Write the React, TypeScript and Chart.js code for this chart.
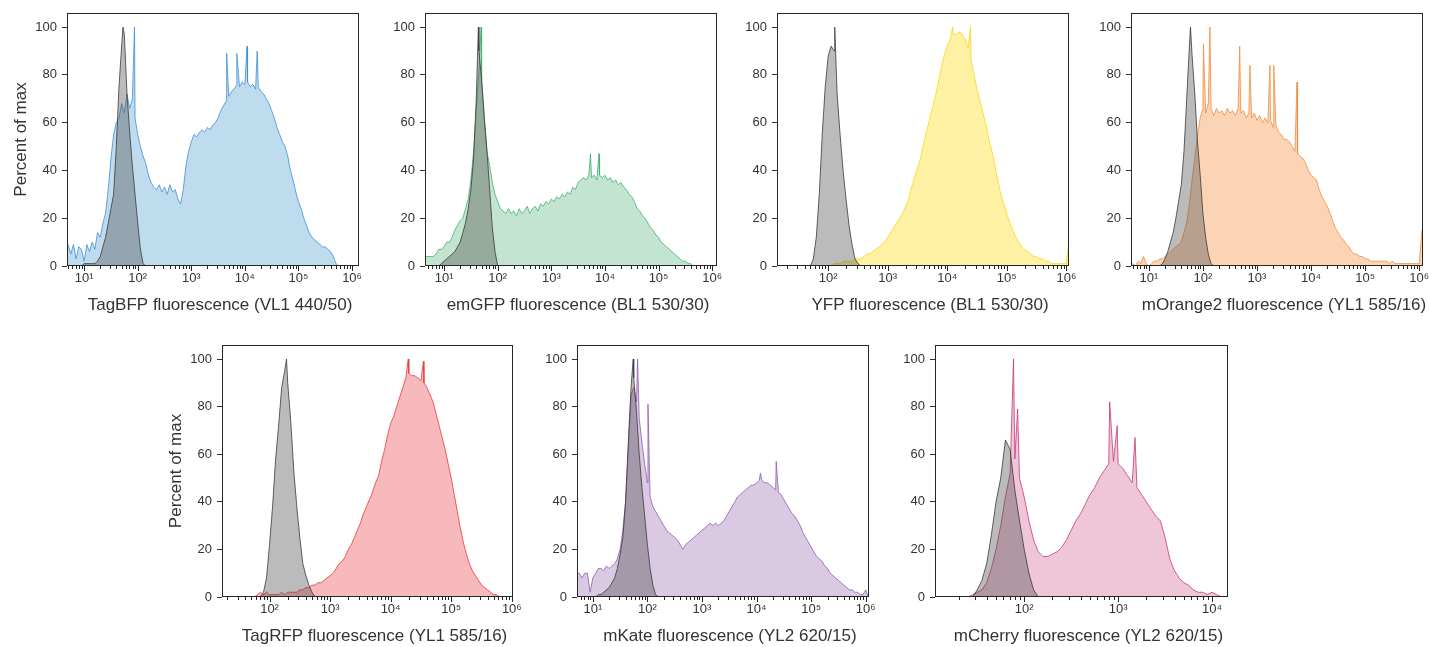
import React, { useEffect, useRef } from "react";
import { Chart, registerables } from "chart.js";

Chart.register(...registerables);

// ---------- data (bin spacing: 0.05 decade, values = percent of max) ----------
const BIN_STEP = 0.05;
const decadeLabels = ["10⁰", "10¹", "10²", "10³", "10⁴", "10⁵", "10⁶"];
const yTickValues = [0, 20, 40, 60, 80, 100];
const minorMultipliers = [1, 2, 3, 4, 5, 6, 7, 8, 9];

// TagBFP (VL1 440/50)
const tagbfpStart = 0.65;
const tagbfpValues = [
  8, 9, 5, 9, 3, 8, 7, 2, 9, 6,
  10, 7, 14, 12, 18, 22, 32, 45, 55, 60,
  62, 68, 64, 72, 66, 70, 62, 55, 50, 46,
  43, 38, 35, 33, 32, 34, 31, 33, 30, 34,
  31, 32, 28, 26, 32, 42, 48, 52, 55, 54,
  56, 57, 56, 58, 57, 59, 60, 62, 65, 67,
  69, 71, 73, 74, 76, 75, 77, 76, 77, 75,
  76, 74, 75, 73, 72, 70, 68, 65, 62, 58,
  55, 52, 50, 46, 40, 36, 31, 27, 24, 20,
  17, 14, 12, 11, 10, 9, 8, 8, 7, 6,
  4, 1, 0,
];
const tagbfpPeakExp = [1.94, 3.66, 3.85, 4.04, 4.23];
const tagbfpPeakVal = [100, 89, 89, 92, 90];
const tagbfpCtrlStart = 0.95;
const tagbfpCtrlValues = [0, 1, 1, 1, 1, 1, 2, 4, 8, 12, 18, 24, 30, 50, 75, 92, 97, 72, 56, 42, 30, 18, 7, 1, 0];
const tagbfpCtrlPeakExp = [1.725];
const tagbfpCtrlPeakVal = [100];

// emGFP (BL1 530/30)
const emgfpStart = 0.6;
const emgfpValues = [
  4, 4, 4, 4, 4, 5, 7, 7, 8, 10,
  10, 12, 15, 17, 19, 20, 24, 28, 36, 48,
  65, 82, 78, 62, 48, 42, 35, 30, 27, 24,
  23, 22, 24, 22, 23, 21, 24, 22, 23, 25,
  22, 24, 25, 23, 26, 25, 27, 26, 28, 27,
  29, 28, 30, 29, 31, 30, 33, 32, 35, 36,
  37, 36, 38, 37, 38, 36, 38, 37, 38, 36,
  37, 35, 36, 34, 35, 33, 32, 30, 29, 27,
  24, 23, 21, 20, 18, 16, 15, 13, 12, 10,
  9, 8, 7, 6, 5, 4, 3, 2, 2, 1,
  1, 0,
];
const emgfpPeakExp = [1.69, 3.73, 3.89];
const emgfpPeakVal = [100, 47, 47];
const emgfpCtrlStart = 0.9;
const emgfpCtrlValues = [0, 1, 2, 3, 4, 5, 6, 8, 10, 14, 18, 24, 32, 45, 70, 90, 78, 62, 48, 32, 16, 6, 0];
const emgfpCtrlPeakExp = [1.64];
const emgfpCtrlPeakVal = [100];

// YFP (BL1 530/30)
const yfpStart = 2.05;
const yfpValues = [
  0, 1, 1, 1, 2, 2, 2, 2, 3, 3,
  3, 4, 5, 5, 6, 7, 8, 9, 10, 12,
  14, 16, 18, 20, 22, 25, 28, 33, 37, 41,
  45, 51, 56, 61, 66, 71, 77, 83, 88, 92,
  95, 97, 97, 98, 97, 95, 91, 86, 80, 74,
  69, 64, 59, 53, 48, 42, 36, 30, 26, 22,
  18, 15, 12, 10, 8, 7, 6, 5, 4, 4,
  3, 3, 2, 2, 1, 1, 1, 1, 1, 1,
  12,
];
const yfpPeakExp = [4.09, 4.39];
const yfpPeakVal = [100, 100];
const yfpCtrlStart = 1.7;
const yfpCtrlValues = [0, 3, 12, 30, 55, 75, 88, 92, 90, 72, 55, 40, 28, 17, 9, 3, 1, 0];
const yfpCtrlPeakExp = [2.11];
const yfpCtrlPeakVal = [100];

// mOrange2 (YL1 585/16)
const morangeStart = 0.65;
const morangeValues = [
  0, 1, 0, 2, 1, 4, 1, 0, 1, 2,
  2, 3, 3, 4, 5, 6, 7, 8, 9, 10,
  14, 18, 26, 36, 45, 55, 62, 66, 64, 68,
  66, 63, 66, 64, 65, 63, 66, 64, 65, 63,
  66, 64, 65, 62, 64, 62, 64, 61, 63, 60,
  62, 60, 61, 58, 59, 56, 55, 53, 53, 52,
  50, 48, 47, 46, 45, 43, 40, 38, 37, 36,
  32, 29, 27, 25, 22, 19, 16, 14, 12, 11,
  9, 8, 6, 5, 5, 4, 4, 3, 3, 2,
  2, 2, 2, 2, 2, 2, 1, 2, 1, 1,
  1, 1, 1, 1, 1, 1, 1, 1, 15,
];
const morangePeakExp = [2.01, 2.13, 2.68, 2.87, 3.24, 3.31, 3.74];
const morangePeakVal = [93, 100, 92, 84, 84, 84, 77];
const morangeCtrlStart = 1.2;
const morangeCtrlValues = [0, 1, 3, 6, 10, 14, 20, 27, 34, 48, 70, 92, 88, 72, 52, 38, 22, 12, 5, 1, 0];
const morangeCtrlPeakExp = [1.77];
const morangeCtrlPeakVal = [100];

// TagRFP (YL1 585/16)
const tagrfpStart = 1.75;
const tagrfpValues = [
  0, 1, 2, 1, 2, 1, 1, 1, 1, 2,
  1, 2, 2, 2, 2, 3, 3, 4, 4, 5,
  5, 6, 6, 7, 8, 9, 10, 12, 14, 15,
  17, 20, 22, 25, 28, 31, 35, 38, 41, 44,
  48, 51, 57, 62, 68, 73, 76, 80, 84, 88,
  92, 94, 93, 93, 92, 91, 90, 88, 85, 82,
  77, 72, 67, 62, 56, 50, 43, 36, 29, 23,
  18, 14, 11, 9, 7, 5, 4, 3, 2, 1,
  1, 0,
];
const tagrfpPeakExp = [4.29, 4.54];
const tagrfpPeakVal = [100, 99];
const tagrfpCtrlStart = 1.85;
const tagrfpCtrlValues = [0, 2, 8, 22, 38, 58, 72, 88, 95, 90, 74, 53, 38, 25, 14, 9, 5, 2, 0];
const tagrfpCtrlPeakExp = [2.28];
const tagrfpCtrlPeakVal = [100];

// mKate (YL2 620/15)
const mkateStart = 0.7;
const mkateValues = [
  10, 10, 8, 10, 10, 2, 8, 10, 12, 12,
  11, 13, 12, 13, 14, 16, 20, 28, 40, 62,
  85, 88, 82, 75, 65, 56, 48, 42, 38, 36,
  34, 32, 30, 28, 27, 26, 25, 24, 22, 20,
  22, 23, 24, 25, 26, 27, 28, 29, 30, 31,
  30, 31, 30, 31, 32, 34, 36, 38, 40, 42,
  43, 44, 45, 46, 47, 47, 48, 49, 49, 48,
  48, 47, 46, 45, 44, 43, 41, 39, 37, 35,
  34, 32, 30, 27, 25, 23, 21, 19, 17, 16,
  15, 13, 12, 10, 9, 8, 7, 6, 5, 4,
  3, 3, 2, 2, 1, 1, 3, 0,
];
const mkatePeakExp = [1.82, 2.01, 4.07, 4.36];
const mkatePeakVal = [100, 81, 52, 57];
const mkateCtrlStart = 1.05;
const mkateCtrlValues = [0, 1, 1, 2, 3, 4, 6, 8, 12, 18, 25, 40, 65, 88, 92, 78, 60, 46, 34, 22, 12, 5, 1, 0];
const mkateCtrlPeakExp = [1.74];
const mkateCtrlPeakVal = [100];

// mCherry (YL2 620/15)
const mcherryStart = 1.4;
const mcherryValues = [
  0, 1, 2, 3, 6, 12, 20, 30, 42, 52,
  58, 50, 42, 32, 24, 19, 17, 17, 18, 19,
  21, 24, 28, 32, 35, 39, 43, 46, 50, 53,
  56, 57, 56, 54, 51, 48, 46, 43, 40, 37,
  34, 32, 25, 16, 11, 8, 6, 5, 3, 2,
  2, 1, 2, 1, 0,
];
const mcherryPeakExp = [1.886, 1.93, 2.91, 2.99, 3.18];
const mcherryPeakVal = [100, 79, 82, 72, 67];
const mcherryCtrlStart = 1.45;
const mcherryCtrlValues = [0, 3, 7, 14, 26, 40, 50, 66, 62, 45, 32, 20, 10, 3, 0];
const mcherryCtrlPeakExp: number[] = [];
const mcherryCtrlPeakVal: number[] = [];

// ---------- layout / style ----------
const FONT = '"Liberation Sans", "Helvetica Neue", Arial, sans-serif';
const TEXT = "#333333";
const LW = 64; // y-axis box width
const RW = 78; // right spacer
const TP = 4; // top padding
const XH = 24; // x-axis box height
const TITLE_BOX = 28;
const Y_MAX = 105.9;

type Series = { start: number; values: number[]; peakExp: number[]; peakVal: number[] };

type Panel = {
  id: string;
  rect: [number, number, number, number];
  xRange: [number, number];
  xTitle: string;
  yTitle: boolean;
  main: Series;
  ctrl: Series;
  line: string;
  fill: string;
};

const panels: Panel[] = [
  { id: "tagbfp", rect: [67, 13, 359, 266], xRange: [0.68, 6.13], xTitle: "TagBFP fluorescence (VL1 440/50)", yTitle: true,
    main: { start: tagbfpStart, values: tagbfpValues, peakExp: tagbfpPeakExp, peakVal: tagbfpPeakVal },
    ctrl: { start: tagbfpCtrlStart, values: tagbfpCtrlValues, peakExp: tagbfpCtrlPeakExp, peakVal: tagbfpCtrlPeakVal },
    line: "#3f8fd2", fill: "#bfdcef" },
  { id: "emgfp", rect: [425, 13, 717, 266], xRange: [0.644, 6.09], xTitle: "emGFP fluorescence (BL1 530/30)", yTitle: false,
    main: { start: emgfpStart, values: emgfpValues, peakExp: emgfpPeakExp, peakVal: emgfpPeakVal },
    ctrl: { start: emgfpCtrlStart, values: emgfpCtrlValues, peakExp: emgfpCtrlPeakExp, peakVal: emgfpCtrlPeakVal },
    line: "#3fb26a", fill: "#c3e4d0" },
  { id: "yfp", rect: [777, 13, 1069, 266], xRange: [1.14, 6.045], xTitle: "YFP fluorescence (BL1 530/30)", yTitle: false,
    main: { start: yfpStart, values: yfpValues, peakExp: yfpPeakExp, peakVal: yfpPeakVal },
    ctrl: { start: yfpCtrlStart, values: yfpCtrlValues, peakExp: yfpCtrlPeakExp, peakVal: yfpCtrlPeakVal },
    line: "#f6d915", fill: "#fff1a3" },
  { id: "morange", rect: [1131, 13, 1423, 266], xRange: [0.67, 6.07], xTitle: "mOrange2 fluorescence (YL1 585/16)", yTitle: false,
    main: { start: morangeStart, values: morangeValues, peakExp: morangePeakExp, peakVal: morangePeakVal },
    ctrl: { start: morangeCtrlStart, values: morangeCtrlValues, peakExp: morangeCtrlPeakExp, peakVal: morangeCtrlPeakVal },
    line: "#f28c3c", fill: "#fbd4b6" },
  { id: "tagrfp", rect: [222, 345, 513, 597], xRange: [1.215, 6.02], xTitle: "TagRFP fluorescence (YL1 585/16)", yTitle: true,
    main: { start: tagrfpStart, values: tagrfpValues, peakExp: tagrfpPeakExp, peakVal: tagrfpPeakVal },
    ctrl: { start: tagrfpCtrlStart, values: tagrfpCtrlValues, peakExp: tagrfpCtrlPeakExp, peakVal: tagrfpCtrlPeakVal },
    line: "#e63a3a", fill: "#f7b9bc" },
  { id: "mkate", rect: [577, 345, 869, 597], xRange: [0.71, 6.06], xTitle: "mKate fluorescence (YL2 620/15)", yTitle: false,
    main: { start: mkateStart, values: mkateValues, peakExp: mkatePeakExp, peakVal: mkatePeakVal },
    ctrl: { start: mkateCtrlStart, values: mkateCtrlValues, peakExp: mkateCtrlPeakExp, peakVal: mkateCtrlPeakVal },
    line: "#8e5db0", fill: "#dac9e3" },
  { id: "mcherry", rect: [935, 345, 1228, 597], xRange: [1.05, 4.17], xTitle: "mCherry fluorescence (YL2 620/15)", yTitle: false,
    main: { start: mcherryStart, values: mcherryValues, peakExp: mcherryPeakExp, peakVal: mcherryPeakVal },
    ctrl: { start: mcherryCtrlStart, values: mcherryCtrlValues, peakExp: mcherryCtrlPeakExp, peakVal: mcherryCtrlPeakVal },
    line: "#c43a78", fill: "#efc6d7" },
];

function isDecade(v: number) {
  const lg = Math.log10(v);
  return Math.abs(lg - Math.round(lg)) < 1e-9;
}

function clearPadding(scale: any) {
  scale.paddingTop = 0;
  scale.paddingBottom = 0;
  scale.paddingLeft = 0;
  scale.paddingRight = 0;
}

const frameTicks = {
  id: "frameTicks",
  afterDraw(chart: any) {
    const { ctx, chartArea: a } = chart;
    const xs = chart.scales.x;
    ctx.save();
    ctx.strokeStyle = "#262626";
    ctx.lineWidth = 1;
    const l = Math.round(a.left), t = Math.round(a.top), r = Math.round(a.right), b = Math.round(a.bottom);
    ctx.strokeRect(l + 0.5, t + 0.5, r - l - 1, b - t - 1);
    ctx.beginPath();
    for (const tk of xs.ticks) {
      const px = Math.round(xs.getPixelForValue(tk.value)) + 0.5;
      const len = isDecade(tk.value) ? 5 : 3;
      ctx.moveTo(px, b);
      ctx.lineTo(px, b + len);
    }
    ctx.stroke();
    ctx.restore();
  },
};

function toPoints(s: Series) {
  const pts = s.values.map((v, i) => ({ e: s.start + i * BIN_STEP, y: v }));
  s.peakExp.forEach((e, i) => pts.push({ e, y: s.peakVal[i] }));
  pts.sort((a, b) => a.e - b.e);
  return pts.map((p) => ({ x: Math.pow(10, p.e), y: p.y }));
}

function PanelChart({ p }: { p: Panel }) {
  const ref = useRef<HTMLCanvasElement | null>(null);
  const [L, T, R, B] = p.rect;
  const width = LW + (R - L) + RW;
  const height = TP + (B - T) + XH + TITLE_BOX;

  useEffect(() => {
    if (!ref.current) return;
    const lo = Math.pow(10, p.xRange[0]);
    const hi = Math.pow(10, p.xRange[1]);
    const chart = new Chart(ref.current, {
      type: "line",
      data: {
        datasets: [
          {
            data: toPoints(p.ctrl),
            borderColor: "#3a3a3a",
            backgroundColor: "rgba(75,75,75,0.38)",
            borderWidth: 0.8,
            fill: "origin",
            pointRadius: 0,
            tension: 0,
            order: 0,
            xAxisID: "x",
            yAxisID: "y",
          },
          {
            data: toPoints(p.main),
            borderColor: p.line,
            backgroundColor: p.fill,
            borderWidth: 0.8,
            fill: "origin",
            pointRadius: 0,
            tension: 0,
            order: 1,
            xAxisID: "x",
            yAxisID: "y",
          },
        ],
      },
      options: {
        responsive: false,
        animation: false,
        devicePixelRatio: 1,
        events: [],
        layout: { padding: { top: TP, left: 0, right: 0, bottom: 0 } },
        plugins: {
          legend: { display: false },
          tooltip: { enabled: false },
          title: {
            display: true,
            position: "bottom",
            align: "center",
            fullSize: true,
            text: p.xTitle,
            color: TEXT,
            font: { family: FONT, size: 17, weight: "normal", lineHeight: "20px" },
            padding: { top: 5, bottom: 3 },
          },
        },
        scales: {
          x: {
            type: "logarithmic",
            position: "bottom",
            min: lo,
            max: hi,
            afterBuildTicks: (scale: any) => {
              const ticks: { value: number }[] = [];
              for (let n = Math.floor(p.xRange[0]); n <= Math.ceil(p.xRange[1]); n++) {
                for (const m of minorMultipliers) {
                  const v = m * Math.pow(10, n);
                  if (v >= lo && v <= hi) ticks.push({ value: v });
                }
              }
              scale.ticks = ticks;
            },
            afterFit: (scale: any) => {
              scale.height = XH;
              clearPadding(scale);
            },
            grid: { display: false, drawTicks: false },
            border: { display: false },
            ticks: {
              autoSkip: false,
              maxRotation: 0,
              minRotation: 0,
              padding: 5,
              color: TEXT,
              font: { family: FONT, size: 13 },
              callback: (value: any) => {
                const v = Number(value);
                return isDecade(v) ? decadeLabels[Math.round(Math.log10(v))] : "";
              },
            },
          },
          y: {
            type: "linear",
            position: "left",
            min: 0,
            max: Y_MAX,
            afterBuildTicks: (scale: any) => {
              scale.ticks = yTickValues.map((v) => ({ value: v }));
            },
            afterFit: (scale: any) => {
              scale.width = LW;
              clearPadding(scale);
            },
            grid: { display: true, drawOnChartArea: false, drawTicks: true, tickLength: 5, tickColor: "#333333", tickWidth: 1 },
            border: { display: false },
            ticks: { padding: 5, color: TEXT, font: { family: FONT, size: 13 } },
            title: {
              display: p.yTitle,
              text: "Percent of max",
              color: TEXT,
              font: { family: FONT, size: 17, lineHeight: "20px" },
              padding: { top: 8, bottom: 0 },
            },
          },
          spacer: {
            type: "linear",
            position: "right",
            display: true,
            afterFit: (scale: any) => {
              scale.width = RW;
              clearPadding(scale);
            },
            grid: { display: false, drawTicks: false },
            border: { display: false },
            ticks: { display: false },
          },
        },
      } as any,
      plugins: [frameTicks],
    });
    return () => chart.destroy();
  }, [p]);

  return (
    <canvas
      ref={ref}
      width={width}
      height={height}
      style={{ position: "absolute", left: L - LW, top: T - TP, width, height }}
    />
  );
}

export default function App() {
  return (
    <div
      style={{
        position: "absolute",
        left: 0,
        top: 0,
        width: 1429,
        height: 647,
        overflow: "hidden",
        background: "#ffffff",
      }}
    >
      {panels.map((p) => (
        <PanelChart key={p.id} p={p} />
      ))}
    </div>
  );
}
